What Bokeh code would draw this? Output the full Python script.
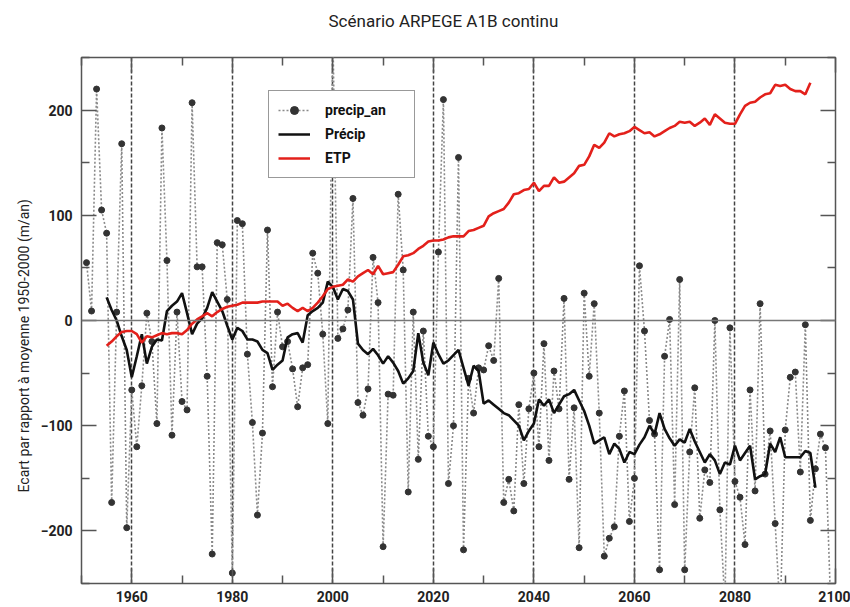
from bokeh.plotting import figure
from bokeh.models import FixedTicker, LinearAxis, Span, Legend, LegendItem, ColumnDataSource, Title
from bokeh.embed import file_html
from bokeh.resources import INLINE

# ---------------- data ----------------
years_an = list(range(1951, 2100))
precip_an = [
    55, 9, 220, 105, 83, -173, 8, 168, -197, -66,          # 1951-1960
    -120, -62, 7, -20, -98, 183, 57, -109, 8, -77,         # 1961-1970
    -85, 207, 51, 51, -53, -222, 74, 72, 20, -240,         # 1971-1980
    95, 92, -32, -97, -185, -107, 86, -63, 8, -25,         # 1981-1990
    -20, -46, -82, -45, -42, 64, 45, -13, -98, 275,        # 1991-2000
    -17, -8, 10, 116, -78, -90, -65, 60, 17, -215,         # 2001-2010
    -70, -71, 120, 48, -163, 8, -132, -10, -110, -120,     # 2011-2020
    65, 210, -155, -100, 155, -218, -55, -88, -45, -47,    # 2021-2030
    -24, -38, 40, -173, -151, -181, -80, -155, -84, -50,   # 2031-2040
    -120, -22, -133, -48, -84, 21, -151, -83, -216, 26,    # 2041-2050
    -53, 16, -88, -224, -207, -196, -110, -67, -191, -150, # 2051-2060
    52, -10, -95, -108, -237, -34, 1, -175, 39, -237,      # 2061-2070
    -125, -64, -188, -142, -154, 0, -180, -270, -7, -153,  # 2071-2080
    -168, -213, -66, -162, 16, -146, -105, -193, -280, -104,  # 2081-2090
    -54, -49, -144, -4, -190, -141, -108, -121, -265,      # 2091-2099
]

years_precip = list(range(1955, 2097))
precip = [
    22, 10, 0, -15, -28, -54, -34, -13, -41, -25,          # 1955-1964
    -18, -19, 9, 14, 18, 26, 7, -13, -3, 2,                # 1965-1974
    12, 27, 18, 9, -5, -18, -7, -10, -18, -18,             # 1975-1984
    -20, -28, -31, -47, -42, -38, -16, -13, -12, -21,      # 1985-1994
    5, 9, 12, 17, 37, 32, 20, 30, 28, 20,                  # 1995-2004
    -22, -28, -32, -27, -33, -41, -34, -40, -48, -60,      # 2005-2014
    -55, -48, -12, -40, -52, -21, -32, -41, -38, -33,      # 2015-2024
    -28, -45, -62, -43, -48, -79, -76, -80, -84, -88,      # 2025-2034
    -90, -95, -100, -114, -105, -98, -75, -81, -75, -88,   # 2035-2044
    -80, -72, -70, -66, -76, -86, -100, -117, -114, -111,  # 2045-2054
    -127, -117, -122, -135, -125, -127, -118, -111, -100, -108,  # 2055-2064
    -88, -103, -112, -119, -113, -116, -103, -115, -125, -135,   # 2065-2074
    -127, -133, -146, -135, -137, -119, -133, -126, -119, -151,  # 2075-2084
    -148, -146, -117, -125, -111, -130, -130, -130, -130, -124,  # 2085-2094
    -126, -159,                                            # 2095-2096
]

years_etp = list(range(1955, 2096))
etp = [
    -24, -20, -15, -11, -10, -10, -13, -21, -15, -16,      # 1955-1964
    -14, -12, -13, -12, -12, -13, -9, -3, 1, 4,            # 1965-1974
    7, 4, 8, 11, 13, 14, 15, 17, 17, 17,                   # 1975-1984
    17, 18, 18, 18, 18, 14, 16, 12, 9, 12,                 # 1985-1994
    9, 12, 17, 23, 30, 32, 33, 34, 39, 37,                 # 1995-2004
    42, 45, 48, 44, 52, 44, 45, 46, 53, 61,                # 2005-2014
    62, 64, 68, 71, 75, 76, 76, 77, 79, 80,                # 2015-2024
    80, 80, 85, 86, 88, 90, 99, 102, 104, 106,             # 2025-2034
    112, 120, 121, 124, 125, 131, 123, 128, 128, 136,      # 2035-2044
    131, 132, 136, 140, 147, 148, 156, 167, 164, 169,      # 2045-2054
    178, 175, 177, 178, 180, 184, 181, 178, 179, 175,      # 2055-2064
    177, 180, 183, 185, 189, 188, 189, 185, 188, 192,      # 2065-2074
    186, 196, 192, 188, 187, 187, 196, 204, 207, 208,      # 2075-2084
    212, 215, 216, 224, 223, 224, 220, 218, 218, 215,      # 2085-2094
    226,                                                   # 2095
]

x_major = [1960, 1980, 2000, 2020, 2040, 2060, 2080, 2100]
x_minor = [1950, 1970, 1990, 2010, 2030, 2050, 2070, 2090]
x_grid = [1960, 1980, 2000, 2020, 2040, 2060, 2080]
y_major = [-200, -100, 0, 100, 200]
y_minor = [-250, -150, -50, 50, 150, 250]

title_text = "Scénario ARPEGE A1B continu"
y_label = "Ecart par rapport à moyenne 1950-2000 (m/an)"

# ---------------- figure ----------------
FONT = "Roboto"
p = figure(width=850, height=607, x_range=(1950, 2100), y_range=(-250, 250),
           output_backend="svg", toolbar_location=None,
           min_border_left=81, min_border_right=15, min_border_top=57, min_border_bottom=24)
p.xaxis.visible = False
p.yaxis.visible = False
p.background_fill_color = "white"
p.border_fill_color = "white"
p.outline_line_color = "#555555"
p.outline_line_width = 1.5

def style_axis(ax):
    ax.axis_line_color = None
    ax.major_tick_in = 15
    ax.major_tick_out = 0
    ax.minor_tick_in = 8
    ax.minor_tick_out = 0
    ax.major_tick_line_color = "#555555"
    ax.minor_tick_line_color = "#555555"
    ax.major_tick_line_width = 1.5
    ax.minor_tick_line_width = 1.5
    ax.major_label_text_font = FONT
    ax.major_label_text_font_size = "14px"
    ax.major_label_text_font_style = "bold"
    ax.major_label_text_color = "#222222"

xt = FixedTicker(ticks=x_major, minor_ticks=x_minor)
yt = FixedTicker(ticks=y_major, minor_ticks=y_minor)

bottom = LinearAxis(ticker=xt)
style_axis(bottom)
bottom.major_label_standoff = 7
p.add_layout(bottom, "below")

top = LinearAxis(ticker=xt)
style_axis(top)
top.major_label_overrides = {t: "" for t in x_major}
top.major_label_standoff = 0
p.add_layout(top, "above")

# invisible spacer between the frame and the title
spacer = LinearAxis(ticker=FixedTicker(ticks=x_major))
spacer.axis_line_color = None
spacer.major_tick_line_color = None
spacer.minor_tick_line_color = None
spacer.major_tick_in = 0
spacer.major_tick_out = 25
spacer.minor_tick_in = 0
spacer.minor_tick_out = 0
spacer.major_label_overrides = {t: "" for t in x_major}
spacer.major_label_standoff = 0
p.add_layout(spacer, "above")

left = LinearAxis(ticker=yt)
style_axis(left)
left.major_label_standoff = 9
p.add_layout(left, "left")

right = LinearAxis(ticker=yt)
style_axis(right)
right.major_label_overrides = {t: "" for t in y_major}
right.major_label_standoff = 0
p.add_layout(right, "right")

ylab = Title(text=y_label, align="left", offset=91, standoff=12,
             text_font=FONT, text_font_size="14px", text_font_style="normal",
             text_color="#222222")
p.add_layout(ylab, "left")

ttl = Title(text=title_text, align="left", offset=247, standoff=4,
            text_font=FONT, text_font_size="17px", text_font_style="normal",
            text_color="#222222")
p.add_layout(ttl, "above")

p.xgrid.ticker = FixedTicker(ticks=x_grid)
p.xgrid.grid_line_color = "#444444"
p.xgrid.grid_line_dash = "4 2"
p.xgrid.grid_line_width = 1.5
p.ygrid.visible = False

p.add_layout(Span(location=0, dimension="width", line_color="#777777", line_width=1.5))

src_an = ColumnDataSource(dict(x=years_an, y=precip_an))
r_an_line = p.line("x", "y", source=src_an, line_color="#8a8a8a", line_width=1.6, line_dash="2 2")
r_an_pts = p.scatter("x", "y", source=src_an, size=6, fill_color="#333333", line_color="#333333")

r_p = p.line(years_precip, precip, line_color="#111111", line_width=2.6)
r_e = p.line(years_etp, etp, line_color="#e3201b", line_width=2.6)

legend = Legend(items=[
    LegendItem(label="precip_an", renderers=[r_an_line, r_an_pts]),
    LegendItem(label="Précip", renderers=[r_p]),
    LegendItem(label="ETP", renderers=[r_e]),
], location=(187, 405))
legend.label_text_font = FONT
legend.label_text_font_size = "14px"
legend.label_text_font_style = "bold"
legend.label_text_color = "#111111"
legend.border_line_color = "#333333"
legend.border_line_width = 1.5
legend.glyph_width = 32
legend.glyph_height = 20
legend.label_height = 20
legend.label_width = 80
legend.label_standoff = 15
legend.spacing = 4
legend.padding = 9
legend.margin = 0
legend.background_fill_alpha = 1
p.add_layout(legend)

open("out.html", "w").write(file_html(p, INLINE))
